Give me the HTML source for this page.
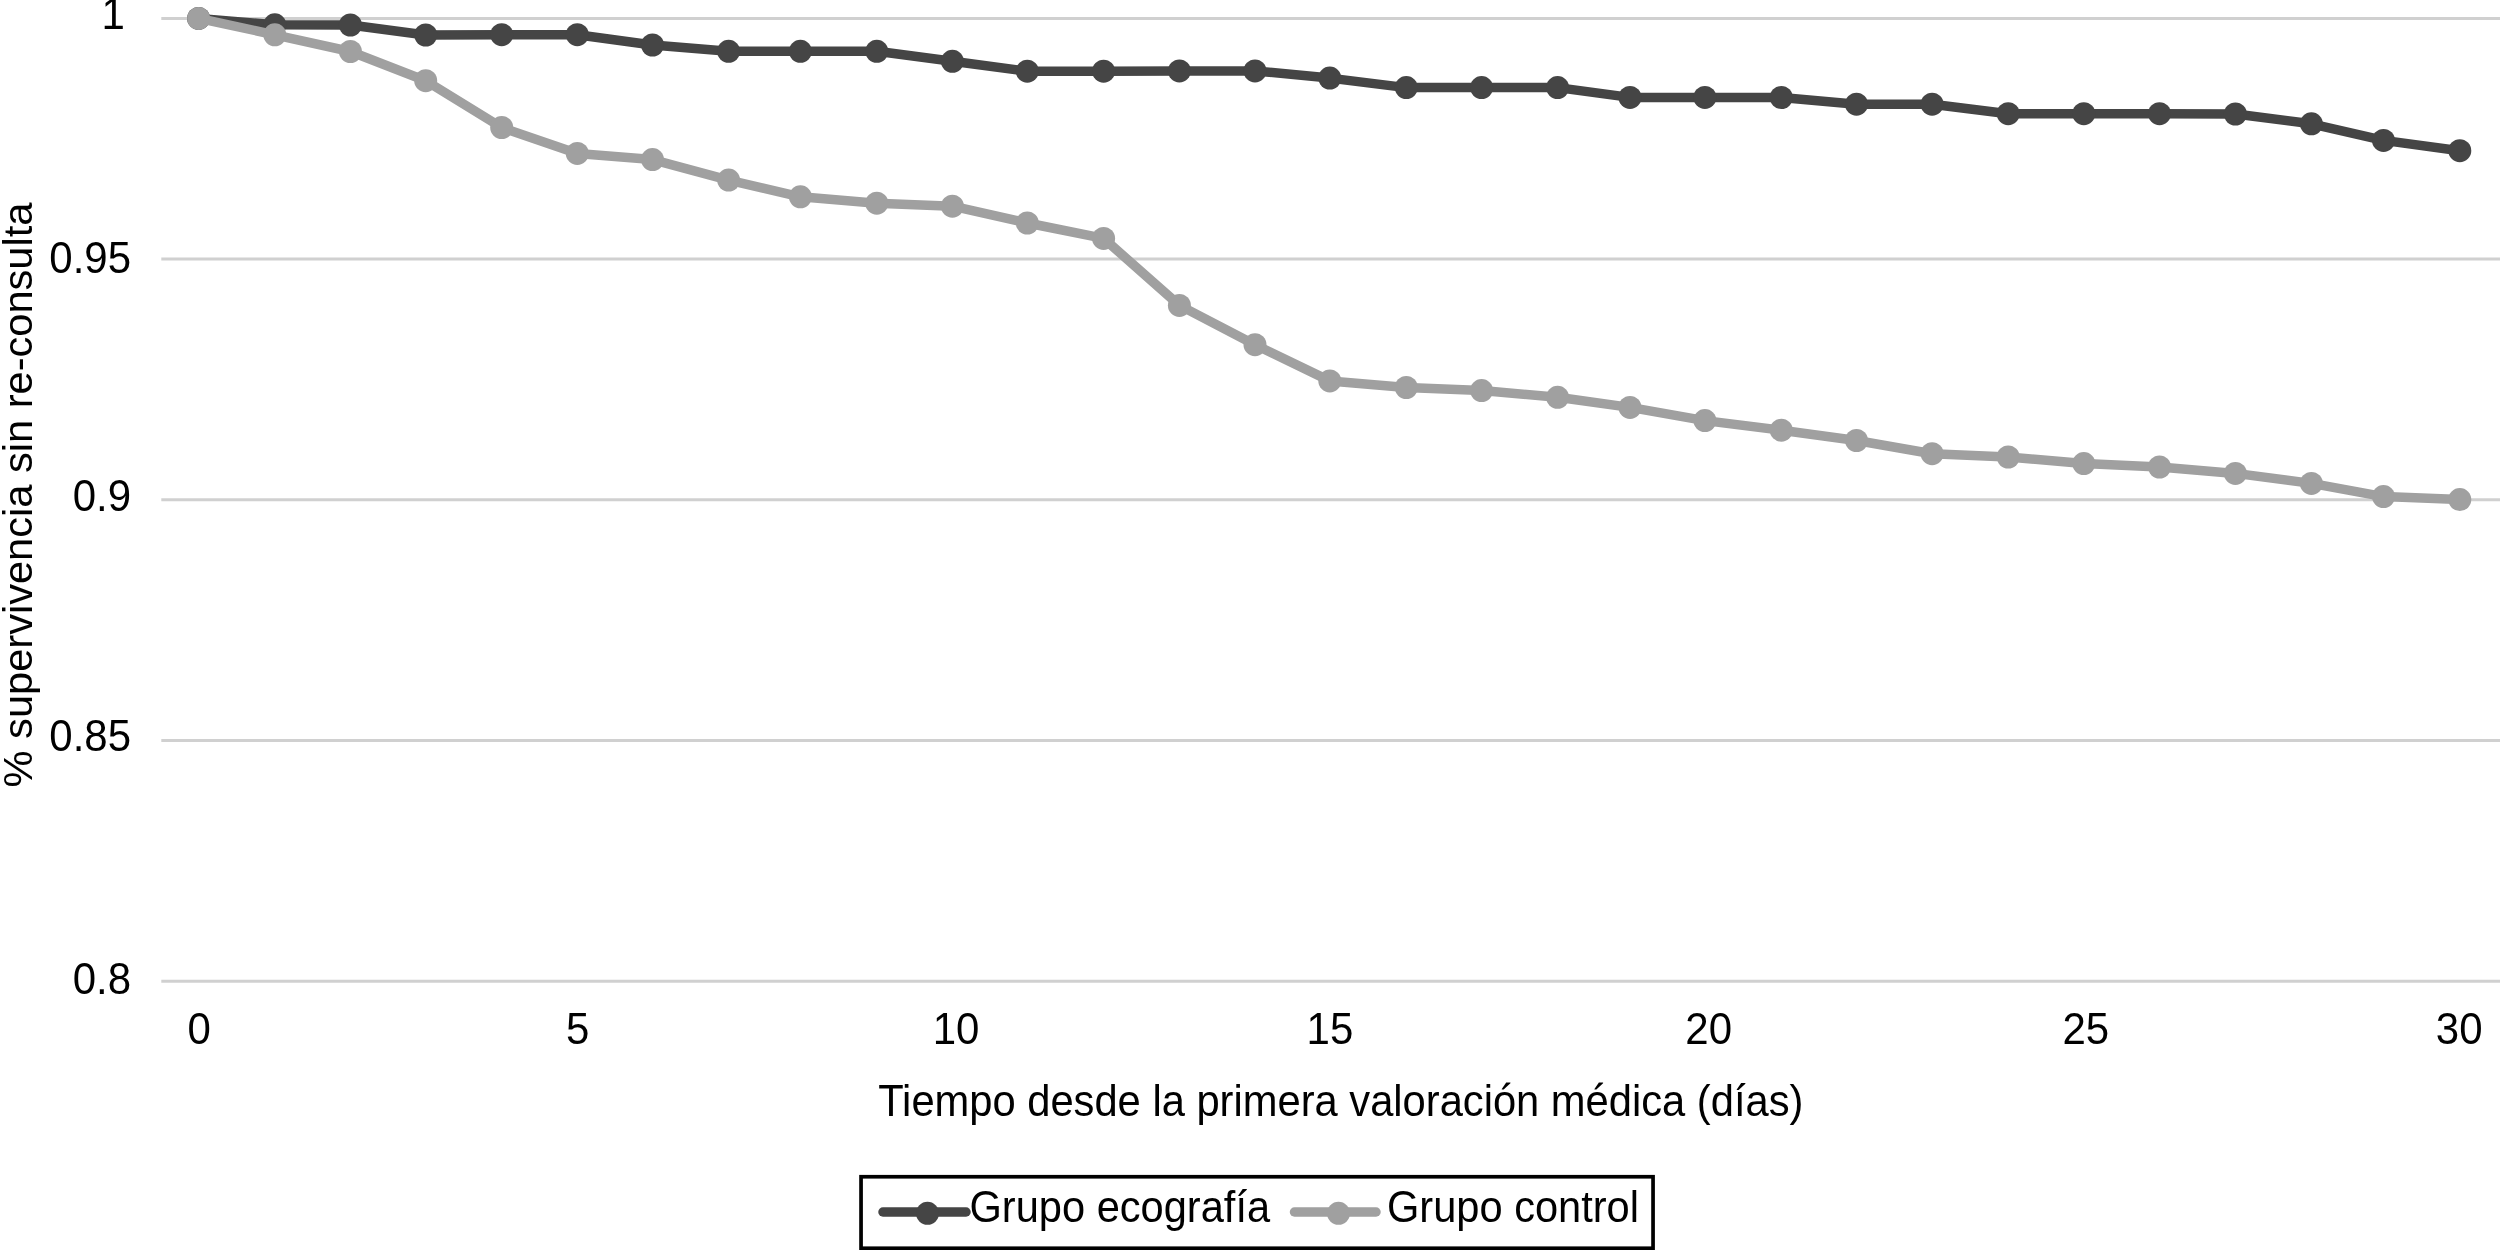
<!DOCTYPE html>
<html><head><meta charset="utf-8"><style>
html,body{margin:0;padding:0;background:#fff;}
body{width:2500px;height:1250px;overflow:hidden;}
svg{display:block;font-family:"Liberation Sans",sans-serif;filter:grayscale(1);}
</style></head><body>
<svg width="2500" height="1250" viewBox="0 0 2500 1250">
<rect width="2500" height="1250" fill="#fff"/>
<g stroke="#d0d0d0" stroke-width="3"><line x1="161.3" y1="18.40" x2="2500" y2="18.40"/><line x1="161.3" y1="259.12" x2="2500" y2="259.12"/><line x1="161.3" y1="499.84" x2="2500" y2="499.84"/><line x1="161.3" y1="740.56" x2="2500" y2="740.56"/><line x1="161.3" y1="981.28" x2="2500" y2="981.28"/></g>
<g font-size="42" fill="#000">
<text transform="translate(124.80,28.80) scale(1,1.04)" text-anchor="end">1</text><text transform="translate(131.00,272.80) scale(1,1.04)" text-anchor="end">0.95</text><text transform="translate(131.00,511.00) scale(1,1.04)" text-anchor="end">0.9</text><text transform="translate(131.00,750.80) scale(1,1.04)" text-anchor="end">0.85</text><text transform="translate(131.00,993.80) scale(1,1.04)" text-anchor="end">0.8</text>
<text transform="translate(199.10,1043.60) scale(1,1.04)" text-anchor="middle">0</text><text transform="translate(577.70,1043.60) scale(1,1.04)" text-anchor="middle">5</text><text transform="translate(956.10,1043.60) scale(1,1.04)" text-anchor="middle">10</text><text transform="translate(1329.90,1043.60) scale(1,1.04)" text-anchor="middle">15</text><text transform="translate(1708.70,1043.60) scale(1,1.04)" text-anchor="middle">20</text><text transform="translate(2085.80,1043.60) scale(1,1.04)" text-anchor="middle">25</text><text transform="translate(2459.20,1043.60) scale(1,1.04)" text-anchor="middle">30</text>
</g>
<g font-size="41.6" fill="#000">
<text transform="translate(878.2,1115.9) scale(1,1.06)" font-size="41.7">Tiempo desde la primera valoración médica (días)</text>
<text transform="translate(32.0,495.0) rotate(-90) scale(1,0.96)" text-anchor="middle">% supervivencia sin re-consulta</text>
</g>
<polyline points="198.60,18.40 274.80,24.80 350.40,25.00 425.70,35.00 501.70,34.70 577.30,34.70 652.50,45.00 728.60,51.30 800.40,51.30 876.80,51.30 952.40,61.30 1027.30,71.20 1103.60,71.20 1179.40,70.90 1255.00,70.90 1329.80,78.10 1406.30,87.60 1481.60,87.60 1557.60,87.60 1630.00,97.40 1704.90,97.40 1781.30,97.50 1856.50,104.20 1932.10,104.20 2008.20,113.70 2083.80,113.70 2159.50,113.70 2235.40,114.00 2311.40,123.80 2383.50,140.40 2459.80,150.70" fill="none" stroke="#454545" stroke-width="9.5" stroke-linejoin="round" stroke-linecap="round"/>
<g fill="#454545"><circle cx="198.60" cy="18.40" r="11.5"/><circle cx="274.80" cy="24.80" r="11.5"/><circle cx="350.40" cy="25.00" r="11.5"/><circle cx="425.70" cy="35.00" r="11.5"/><circle cx="501.70" cy="34.70" r="11.5"/><circle cx="577.30" cy="34.70" r="11.5"/><circle cx="652.50" cy="45.00" r="11.5"/><circle cx="728.60" cy="51.30" r="11.5"/><circle cx="800.40" cy="51.30" r="11.5"/><circle cx="876.80" cy="51.30" r="11.5"/><circle cx="952.40" cy="61.30" r="11.5"/><circle cx="1027.30" cy="71.20" r="11.5"/><circle cx="1103.60" cy="71.20" r="11.5"/><circle cx="1179.40" cy="70.90" r="11.5"/><circle cx="1255.00" cy="70.90" r="11.5"/><circle cx="1329.80" cy="78.10" r="11.5"/><circle cx="1406.30" cy="87.60" r="11.5"/><circle cx="1481.60" cy="87.60" r="11.5"/><circle cx="1557.60" cy="87.60" r="11.5"/><circle cx="1630.00" cy="97.40" r="11.5"/><circle cx="1704.90" cy="97.40" r="11.5"/><circle cx="1781.30" cy="97.50" r="11.5"/><circle cx="1856.50" cy="104.20" r="11.5"/><circle cx="1932.10" cy="104.20" r="11.5"/><circle cx="2008.20" cy="113.70" r="11.5"/><circle cx="2083.80" cy="113.70" r="11.5"/><circle cx="2159.50" cy="113.70" r="11.5"/><circle cx="2235.40" cy="114.00" r="11.5"/><circle cx="2311.40" cy="123.80" r="11.5"/><circle cx="2383.50" cy="140.40" r="11.5"/><circle cx="2459.80" cy="150.70" r="11.5"/></g>
<polyline points="198.60,18.40 274.80,34.80 350.40,51.50 425.70,80.70 501.70,127.50 577.30,153.40 652.50,159.60 728.60,180.10 800.40,196.80 876.80,203.20 952.40,206.20 1027.30,223.00 1103.60,238.40 1179.40,305.40 1255.00,344.70 1329.80,380.90 1406.30,387.50 1481.60,390.60 1557.60,397.30 1630.00,407.40 1704.90,420.60 1781.30,430.20 1856.50,440.50 1932.10,453.70 2008.20,457.00 2083.80,463.60 2159.50,467.00 2235.40,473.40 2311.40,483.40 2383.50,496.60 2459.80,499.60" fill="none" stroke="#a0a0a0" stroke-width="9.5" stroke-linejoin="round" stroke-linecap="round"/>
<g fill="#a0a0a0"><circle cx="198.60" cy="18.40" r="11.5"/><circle cx="274.80" cy="34.80" r="11.5"/><circle cx="350.40" cy="51.50" r="11.5"/><circle cx="425.70" cy="80.70" r="11.5"/><circle cx="501.70" cy="127.50" r="11.5"/><circle cx="577.30" cy="153.40" r="11.5"/><circle cx="652.50" cy="159.60" r="11.5"/><circle cx="728.60" cy="180.10" r="11.5"/><circle cx="800.40" cy="196.80" r="11.5"/><circle cx="876.80" cy="203.20" r="11.5"/><circle cx="952.40" cy="206.20" r="11.5"/><circle cx="1027.30" cy="223.00" r="11.5"/><circle cx="1103.60" cy="238.40" r="11.5"/><circle cx="1179.40" cy="305.40" r="11.5"/><circle cx="1255.00" cy="344.70" r="11.5"/><circle cx="1329.80" cy="380.90" r="11.5"/><circle cx="1406.30" cy="387.50" r="11.5"/><circle cx="1481.60" cy="390.60" r="11.5"/><circle cx="1557.60" cy="397.30" r="11.5"/><circle cx="1630.00" cy="407.40" r="11.5"/><circle cx="1704.90" cy="420.60" r="11.5"/><circle cx="1781.30" cy="430.20" r="11.5"/><circle cx="1856.50" cy="440.50" r="11.5"/><circle cx="1932.10" cy="453.70" r="11.5"/><circle cx="2008.20" cy="457.00" r="11.5"/><circle cx="2083.80" cy="463.60" r="11.5"/><circle cx="2159.50" cy="467.00" r="11.5"/><circle cx="2235.40" cy="473.40" r="11.5"/><circle cx="2311.40" cy="483.40" r="11.5"/><circle cx="2383.50" cy="496.60" r="11.5"/><circle cx="2459.80" cy="499.60" r="11.5"/></g>
<rect x="861.05" y="1176.75" width="792" height="71.5" fill="none" stroke="#000" stroke-width="3.7"/>
<line x1="883" y1="1212" x2="966" y2="1212" stroke="#454545" stroke-width="9.5" stroke-linecap="round"/>
<circle cx="927.5" cy="1213.3" r="11.5" fill="#454545"/>
<line x1="1294.5" y1="1212" x2="1376" y2="1212" stroke="#a0a0a0" stroke-width="9.5" stroke-linecap="round"/>
<circle cx="1338.5" cy="1213.3" r="11.5" fill="#a0a0a0"/>
<g font-size="41.6" fill="#000">
<text transform="translate(969.5,1221.8) scale(1,1.06)">Grupo ecografía</text>
<text transform="translate(1387.0,1221.8) scale(1,1.06)">Grupo control</text>
</g>
</svg>
</body></html>
